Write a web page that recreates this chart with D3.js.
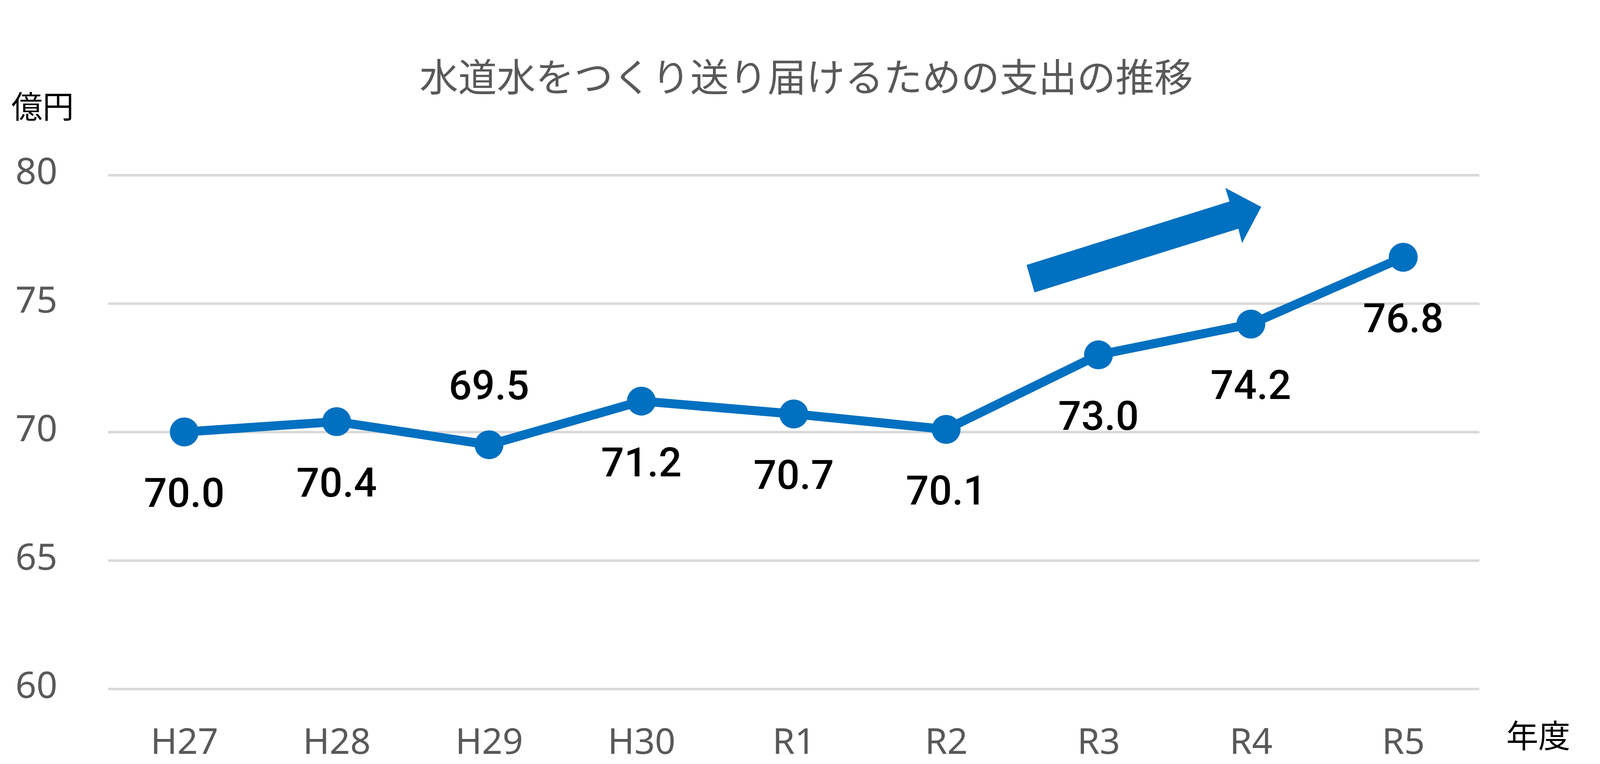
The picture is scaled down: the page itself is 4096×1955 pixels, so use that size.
<!DOCTYPE html>
<html><head><meta charset="utf-8">
<script src="https://cdn.jsdelivr.net/npm/d3@7"></script>
<style>html,body{margin:0;padding:0;background:#fff;overflow:hidden}</style>
</head><body>
<svg id="chart" width="4096" height="1955"></svg>
<script>
const categories = ["H27","H28","H29","H30","R1","R2","R3","R4","R5"];
const values = [70.0,70.4,69.5,71.2,70.7,70.1,73.0,74.2,76.8];
const labelsAbove = ["H29"];
const yTicks = [60,65,70,75,80];
const title = "水道水をつくり送り届けるための支出の推移";
const yUnit = "億円";
const xUnit = "年度";
// trend arrow outline in data space: [category index, value]
const arrowIdx = [5.580,5.528,6.860,6.832,7.068,6.942,6.918];
const arrowVal = [75.43,76.50,78.97,79.50,78.76,77.35,77.91];

const svg = d3.select("#chart");
const left = 276.7, right = 3787.3;
const x = d3.scalePoint().domain(categories).range([left,right]).padding(0.5);
const y = d3.scaleLinear().domain([60,80]).range([1762.7,447.9]);
const step = x.step();
const xi = i => x(categories[0]) + i*step;

const blue = "#0070C0", gray = "#595959";
const font = "'Noto Sans','Noto Sans CJK JP',sans-serif";
const cjk = "'Noto Sans CJK JP','Noto Sans',sans-serif";

// gridlines
const yAxis = d3.axisLeft(y).tickValues(yTicks).tickSize(-(right-left)).tickPadding(0);
const gy = svg.append("g").attr("transform",`translate(${left},0)`).call(yAxis);
gy.select(".domain").remove();
gy.selectAll(".tick line").attr("stroke","#d9d9d9").attr("stroke-width",6.5);
gy.selectAll(".tick text").remove();
yTicks.forEach(t=>{
  svg.append("text").attr("x",147).attr("y",y(t)-10).attr("dy","0.357em")
    .attr("text-anchor","end").attr("font-family",font).attr("font-size",94)
    .attr("fill",gray).text(t);
});

// x labels
const xAxis = d3.axisBottom(x).tickSize(0).tickPadding(0);
const gx = svg.append("g").attr("transform","translate(0,1896)").call(xAxis);
gx.select(".domain").remove();
gx.selectAll(".tick text").attr("dy","0.357em").attr("font-family",font)
  .attr("font-size",92).attr("fill",gray);

// title
svg.append("text").attr("x",2064).attr("y",198).attr("dy","0.36em").attr("text-anchor","middle")
  .attr("font-family",cjk).attr("font-size",99).attr("fill",gray).text(title);
svg.append("text").attr("x",109).attr("y",273).attr("dy","0.36em").attr("text-anchor","middle")
  .attr("font-family",cjk).attr("font-size",80).attr("fill","#000").text(yUnit);
svg.append("text").attr("x",3938).attr("y",1883).attr("dy","0.36em").attr("text-anchor","middle")
  .attr("font-family",cjk).attr("font-size",82).attr("fill","#000").text(xUnit);

// arrow
const arrowPts = arrowIdx.map((d,i)=>[xi(d), y(arrowVal[i])]);
svg.append("path").attr("d", d3.line()(arrowPts)+"Z").attr("fill",blue);

// line
const data = categories.map((c,i)=>({c, v:values[i]}));
svg.append("path").datum(data)
  .attr("d", d3.line().x(d=>x(d.c)).y(d=>y(d.v)))
  .attr("fill","none").attr("stroke",blue).attr("stroke-width",23).attr("stroke-linejoin","round");
svg.selectAll("circle.m").data(data).enter().append("circle")
  .attr("cx",d=>x(d.c)).attr("cy",d=>y(d.v)).attr("r",37).attr("fill",blue);

// data labels
svg.selectAll("text.lbl").data(data).enter().append("text")
  .attr("x",d=>x(d.c))
  .attr("y",d=>y(d.v) + (labelsAbove.includes(d.c)? -153 : 155))
  .attr("dy","0.357em").attr("text-anchor","middle")
  .attr("font-family","Roboto,'Noto Sans',sans-serif").attr("font-weight",500)
  .attr("font-size",104).attr("fill","#000")
  .text(d=>d.v.toFixed(1));
</script>
</body></html>
